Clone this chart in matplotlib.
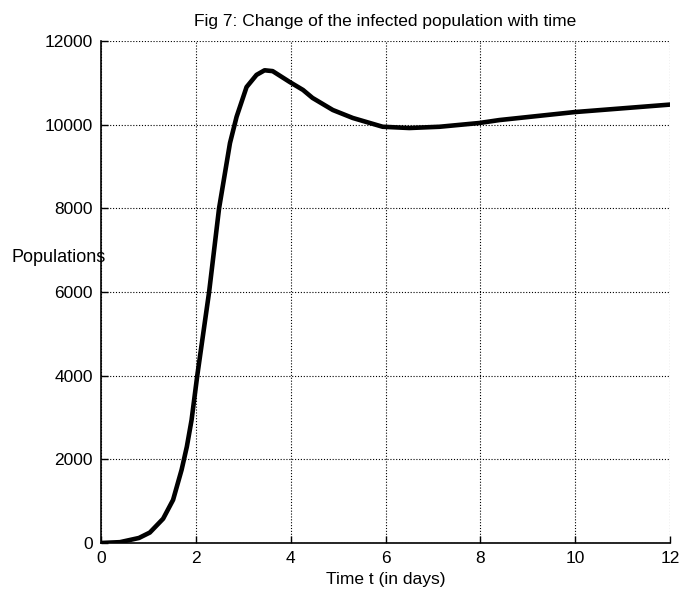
import matplotlib
matplotlib.use("Agg")
import matplotlib.pyplot as plt

plt.rcParams['font.family'] = ['Liberation Sans', 'DejaVu Sans']

t_days = [0, 0.4, 0.8, 1.03, 1.31, 1.52, 1.70, 1.81, 1.91, 2.03, 2.28, 2.49,
          2.72, 2.86, 3.07, 3.28, 3.45, 3.62, 3.98, 4.26, 4.46, 4.89, 5.31, 5.94,
          6.5, 7.14, 7.98, 8.4, 9.98, 12]
infected = [0, 20, 120, 250, 580, 1030, 1750, 2300, 2940, 4000, 6000, 8000,
            9560, 10190, 10900, 11190, 11300, 11280, 11020, 10830, 10640, 10350,
            10160, 9950, 9920, 9950, 10040, 10110, 10300, 10480]

xticks = [0, 2, 4, 6, 8, 10, 12]
yticks = [0, 2000, 4000, 6000, 8000, 10000, 12000]

fig = plt.figure(figsize=(6.8, 5.99), dpi=100)
ax = fig.add_axes([101/680, 1-543/599, 569/680, 502/599])

ax.plot(t_days, infected, color='black', lw=3.3, solid_joinstyle='round')

ax.set_xlim(0, 12)
ax.set_ylim(0, 12000)
ax.set_xticks(xticks)
ax.set_yticks(yticks)
ax.grid(True, color='black', linestyle=(0, (1, 1.6)), linewidth=0.8)
ax.spines['top'].set_visible(False)
ax.spines['right'].set_visible(False)
ax.spines['left'].set_linewidth(1.2)
ax.spines['bottom'].set_linewidth(1.2)
ax.tick_params(direction='in', length=5, width=1, labelsize=12.5, pad=6)

ax.set_title('Fig 7: Change of the infected population with time', fontsize=12.5, pad=11)
ax.set_xlabel('Time t (in days)', fontsize=12.5, labelpad=4)
ax.set_ylabel('Populations', fontsize=13, rotation=0, ha='center', va='center')
ax.yaxis.set_label_coords(-0.074, 0.568)

fig.savefig('out.png', dpi=100)
